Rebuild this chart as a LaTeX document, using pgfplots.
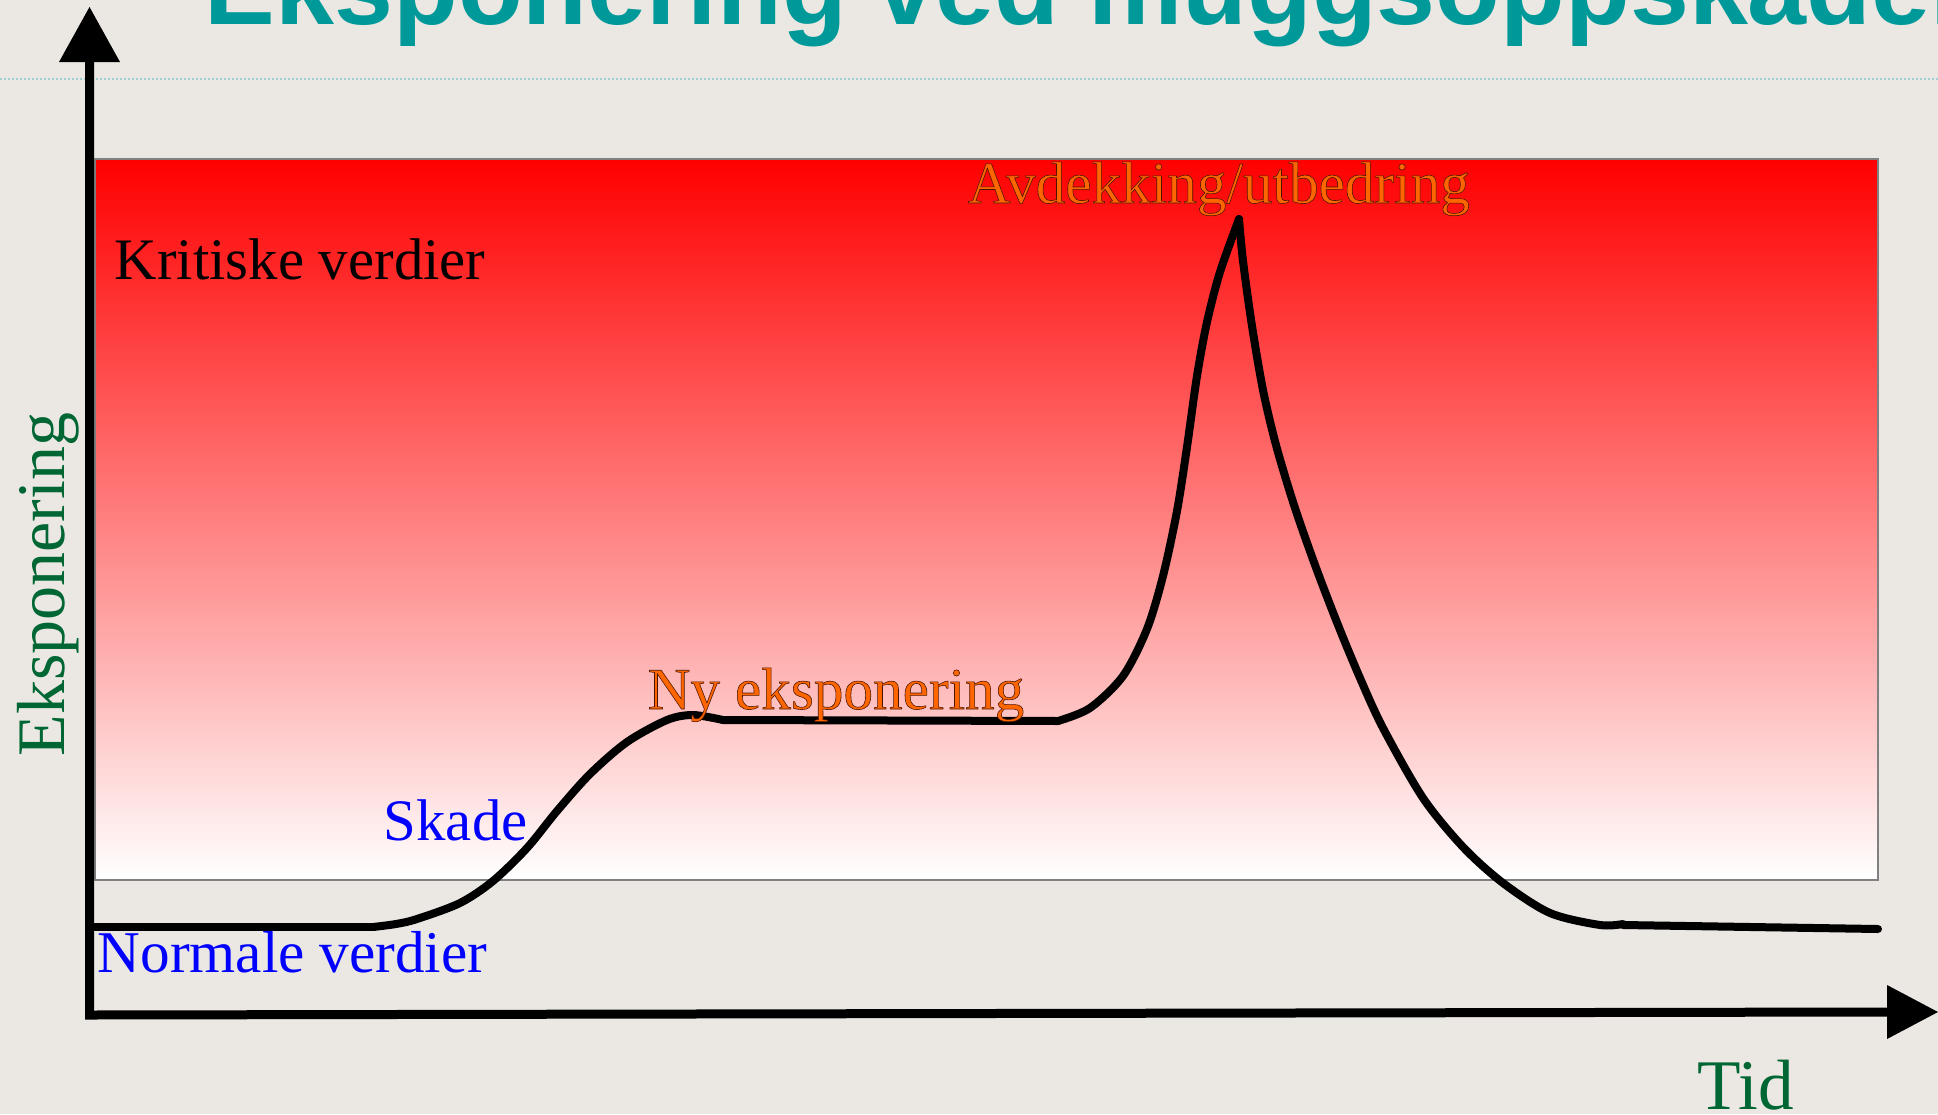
\documentclass[border=0pt]{standalone}
\usepackage{pgfplots}
\pgfplotsset{compat=1.18}
\usepackage{fontspec}
\setmainfont{Liberation Serif}
\newfontfamily\titlefont{Liberation Sans}
\definecolor{bg}{RGB}{235,232,227}
\definecolor{titleteal}{RGB}{0,153,153}
\definecolor{labgreen}{RGB}{0,102,51}
\definecolor{txtblue}{RGB}{0,0,255}
\definecolor{txtorange}{RGB}{255,102,0}
\definecolor{dotline}{RGB}{160,208,208}
\newcommand{\outlined}[1]{\special{pdf:literal direct 2 Tr 0.14 w 0.3 0.08 0 RG}#1\special{pdf:literal direct 0 Tr}}
\begin{document}
\begin{tikzpicture}
\useasboundingbox (0,0) rectangle (484.5pt,278.5pt);
\clip (0,0) rectangle (484.5pt,278.5pt);
\fill[bg] (0,0) rectangle (484.5pt,278.5pt);
\begin{axis}[scale only axis, width=484.5pt, height=278.5pt,
  at={(242.25pt,139.25pt)}, anchor=center,
  xmin=0, xmax=1938, ymin=0, ymax=1114, y dir=reverse,
  hide axis, clip=false]
% dotted rule under title
\draw[dotline, line width=0.3pt, dash pattern=on 0.4pt off 0.6pt] (axis cs:0,79) -- (axis cs:1938,79);
% gradient zone
\fill[top color=red, bottom color=white, draw=gray, line width=0.35pt] (axis cs:95,159) rectangle (axis cs:1878,880);
% axes with arrows
\draw[black, line width=2.25pt, line join=miter] (axis cs:89.5,62) -- (axis cs:89.5,1015) -- (axis cs:1887,1012);
\fill[black] (axis cs:59,62) -- (axis cs:89.5,7) -- (axis cs:120,62) -- cycle;
\fill[black] (axis cs:1887,985) -- (axis cs:1938,1012) -- (axis cs:1887,1039) -- cycle;
% exposure curve
\addplot[black, line width=2pt, line cap=round] coordinates {(95,927) (373,927)};
\addplot[black, line width=2pt, smooth, line cap=round] coordinates {
(373,927) (396,924) (417,919) (460,903) (493,881) (527,848) (557,811) (590,774) (627,742) (667,720) (693,715) (723,720)};
\addplot[black, line width=2pt, line cap=round] coordinates {(723,720) (1058,721)};
\addplot[black, line width=2pt, smooth, line cap=round] coordinates {
(1058,721) (1090,708) (1123,676) (1147,629) (1163,576) (1177,511) (1187,447) (1197,376) (1207,322) (1220,272) (1239,219)};
\addplot[black, line width=2pt, smooth, line cap=round] coordinates {
(1239,219) (1243,261) (1252,326) (1263,390) (1276,445) (1294,505) (1315,565) (1338,625) (1360,678) (1383,728) (1423,798) (1463,847) (1503,883) (1550,913) (1600,925) (1623,924)};
\addplot[black, line width=2pt, line cap=round] coordinates {(1623,925) (1878,929)};
% texts
\node[anchor=base west, inner sep=0, text=titleteal, font=\titlefont\bfseries\fontsize{26.5}{30}\selectfont] at (axis cs:204,24) {Eksponering ved muggsoppskader};
\node[anchor=base west, inner sep=0, text=black, font=\fontsize{14.7}{17}\selectfont] at (axis cs:114,279) {Kritiske verdier};
\node[anchor=base west, inner sep=0, text=txtblue, font=\fontsize{14.8}{17}\selectfont] at (axis cs:97,972) {Normale verdier};
\node[anchor=base west, inner sep=0, text=txtblue, font=\fontsize{14.7}{17}\selectfont] at (axis cs:383,840) {Skade};
\node[anchor=base west, inner sep=0, text=txtorange, font=\fontsize{14.8}{17}\selectfont] at (axis cs:647,709) {\outlined{Ny eksponering}};
\node[anchor=base west, inner sep=0, text=txtorange, font=\fontsize{14.8}{17}\selectfont] at (axis cs:967,203) {\outlined{Avdekking/utbedring}};
\node[anchor=base west, inner sep=0, text=labgreen, font=\fontsize{17.8}{20}\selectfont] at (axis cs:1697,1109) {Tid};
\node[anchor=base west, inner sep=0, rotate=90, text=labgreen, font=\fontsize{17}{20}\selectfont] at (axis cs:64,757) {Eksponering};
\end{axis}
\end{tikzpicture}
\end{document}
